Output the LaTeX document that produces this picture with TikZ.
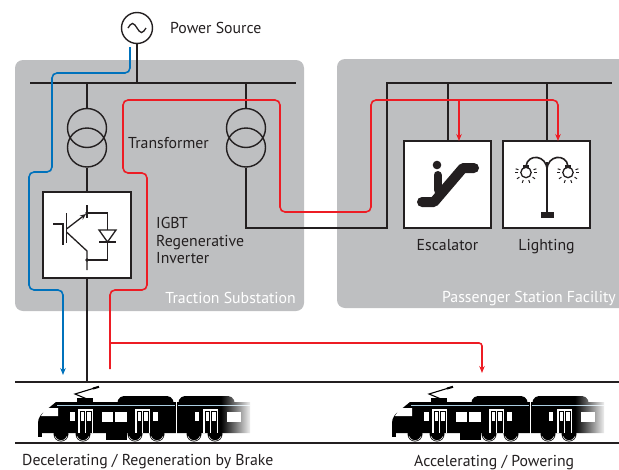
\documentclass[tikz,border=0pt]{standalone}
\usepackage{fontspec}
\setmainfont{PT Sans}
\usetikzlibrary{arrows.meta,calc,fadings}

\definecolor{panel}{RGB}{190,191,193}
\definecolor{flowred}{RGB}{237,28,36}
\definecolor{flowblue}{RGB}{0,114,188}
\definecolor{stripe}{RGB}{170,205,225}
\definecolor{ink}{RGB}{35,31,32}

\tikzfading[name=trainfade, left color=transparent!100, right color=transparent!0]

\tikzset{
  wire/.style={draw=ink, line width=1.4pt},
  bus/.style={draw=ink, line width=2pt},
  redflow/.style={draw=flowred, line width=1.6pt, rounded corners=5pt},
  blueflow/.style={draw=flowblue, line width=1.6pt, rounded corners=5pt},
  tip/.style={-{Stealth[length=7pt,width=5.5pt]}},
  panelbox/.style={fill=panel, rounded corners=8pt, inner sep=0pt},
  whitebox/.style={draw=ink, fill=white, line width=1.4pt, inner sep=0pt},
  coil/.style={circle, draw=ink, line width=1.4pt, minimum size=39pt, inner sep=0pt},
  lbl/.style={font=\fontsize{15.8}{17.5}\selectfont, text=ink, inner sep=0pt},
  panellbl/.style={font=\fontsize{15.8}{17.5}\selectfont, text=white, inner sep=0pt},
  sym/.style={draw=ink, line width=1.3pt},
  train/.pic={
    % car bodies
    \fill[black] (38,433) -- (38,423) .. controls (38,418) and (41,414) .. (45,411)
      -- (56,402) -- (250,402) -- (250,433) -- cycle;
    \fill[black, rounded corners=4pt] (116,404) -- (120,396) -- (171,396) -- (175,404) -- cycle;
    \fill[black, rounded corners=4pt] (177,404) -- (181,396) -- (232,396) -- (236,404) -- cycle;
    % skirts
    \fill[black] (38,430) rectangle (42,437);
    \fill[black] (106,430) rectangle (127,440);
    % wheels
    \foreach \wx in {61,83,135,157,194,215}{
      \fill[black] (\wx,434) circle (7.5);
      \draw[white, line width=0.5pt] (\wx,434) ++(20:6.5) arc[start angle=20, end angle=160, radius=6.5];
    }
    % pantograph
    \fill[black] (77,398) rectangle (93,402.5);
    \draw[black, line width=1.1pt] (98,387) -- (75,394) -- (87,399);
    \draw[black, line width=2pt] (93,388.5) -- (99,386.8);
    % stripe and car gap
    \draw[stripe, line width=1pt] (57,405.5) -- (174.5,405.5);
    \draw[stripe, line width=1pt] (177.5,405.5) -- (250,405.5);
    \draw[white, line width=0.9pt] (176,396) -- (176,434);
    % windows
    \fill[white] (46,408) -- (58,408) -- (58,416) -- (41,416) -- cycle;
    \fill[white] (70,412) rectangle (75,421);
    \fill[white] (102,412) rectangle (113,422);
    \fill[white] (115,412) rectangle (127,422);
    \fill[white] (153,412) rectangle (158,421);
    \fill[white] (195,412) rectangle (199,421);
    \fill[white] (227,412) rectangle (241,422);
    % doors
    \foreach \dx in {78,135,203}{
      \fill[white] (\dx,409) rectangle ++(15,24);
      \fill[black] (\dx+1.5,410.5) rectangle ++(5.5,22.5);
      \fill[black] (\dx+8,410.5) rectangle ++(5.5,22.5);
      \fill[white] (\dx+2.5,412) rectangle ++(3.5,9);
      \fill[white] (\dx+9,412) rectangle ++(3.5,9);
    }
    % tail fading out
    \fill[white, path fading=trainfade] (221,393) rectangle (252,442);
  }
}

\begin{document}
\begin{tikzpicture}[x=1pt, y=-1pt]
\useasboundingbox (0,0) rectangle (619,469);
\clip (0,0) rectangle (619,469);

% ---- panels
\node[panelbox, minimum width=289pt, minimum height=251pt] (sub) at (159.5,185.5) {};
\node[panelbox, minimum width=303pt, minimum height=249pt] (fac) at (488.5,183.5) {};
\node[panellbl, anchor=base east] (sublbl) at (296,303) {Traction Substation};
\node[panellbl, anchor=base east] (faclbl) at (616,302.5) {Passenger Station Facility};

% ---- power source
\node[circle, draw=ink, line width=1.4pt, minimum size=31pt, inner sep=0pt] (src) at (137,28) {};
\draw[ink, line width=1.3pt] ($(src)+(-9,0)$) sin ($(src)+(-4.5,-4.5)$) cos (src)
  sin ($(src)+(4.5,4.5)$) cos ($(src)+(9,0)$);
\node[lbl, anchor=base west] (srclbl) at (170,33.5) {Power Source};

% ---- bus bars
\coordinate (busL) at (30,83);
\coordinate (busR) at (296,83);
\draw[bus] (busL) -- (busR);
\draw[wire] (src.south) -- (src.south |- busL);

% ---- transformers
\node[coil] (t1a) at (87,128) {};
\node[coil] (t1b) at (87,147.5) {};
\node[coil] (t2a) at (246,128) {};
\node[coil] (t2b) at (246,147.5) {};
\node[lbl, anchor=base west] (tlbl) at (128,148) {Transformer};

% ---- inverter
\node[whitebox, minimum width=88pt, minimum height=86pt] (inv) at (87,235) {};
\node[lbl, anchor=west, align=left] (invlbl) at (156,240.5) {IGBT\\Regenerative\\Inverter};

% ---- loads
\node[whitebox, minimum width=87pt, minimum height=87pt] (esc) at (447.5,184.5) {};
\node[whitebox, minimum width=87pt, minimum height=87pt] (lit) at (546.5,184.5) {};
\node[lbl, anchor=base] (esclbl) at (447.5,250) {Escalator};
\node[lbl, anchor=base] (litlbl) at (546.5,250) {Lighting};

% ---- rails
\coordinate (railL) at (15,382);
\coordinate (railR) at (619,382);
\draw[wire] (railL) -- (railR);
\draw[wire] (15,443) -- (619,443);

% ---- black wiring
\draw[wire] (t1a.north |- busL) -- (t1a.north);
\draw[wire] (t1b.south) -- (inv.north);
\draw[wire] (inv.south) -- (inv.south |- railL);
\draw[wire] (t2a.north |- busL) -- (t2a.north);
\coordinate (fbend) at (387,228);
\coordinate (fbus) at (387,83);
\coordinate (fbusR) at (612,83);
\coordinate (escdrop) at (448,141);
\coordinate (litdrop) at (547,141);
\draw[wire] (t2b.south) -- (t2b.south |- fbend) -- (fbend) -- (fbus) -- (fbusR);
\draw[wire] (escdrop |- fbus) -- (escdrop);
\draw[wire] (litdrop |- fbus) -- (litdrop);

% ---- IGBT symbol
\draw[sym] (53,224) -- (63,224) -- (63,245);
\draw[sym] (66.5,213) -- (66.5,243);
\draw[sym, -{Stealth[length=6pt,width=5pt]}] (66.5,229) -- (86,214);
\draw[sym] (87,205) -- (87,218);
\draw[sym] (66.5,232) -- (87,251) -- (87,270);
\draw[sym] (87,213) -- (107.5,213) -- (107.5,260) -- (87,260);
\draw[sym, fill=white] (99,230) -- (116,230) -- (107.5,242) -- cycle;
\draw[sym] (99,242) -- (116,242);
\fill[ink] (87,213) circle (1.8) (87,260) circle (1.8);

% ---- escalator icon
\fill[ink] (437,165) circle (4.3);
\draw[ink, line width=8pt, line cap=round] (437.5,175) -- (437.5,190);
\draw[ink, line width=10pt, line cap=round, line join=round] (422,202) -- (434,202) -- (463,168) -- (474,168);

% ---- street lamp icon
\draw[ink, line width=1.8pt] (547,162) -- (547,213);
\fill[ink] (540.5,212) rectangle (554,218);
\draw[ink, line width=1.6pt] (547,170) .. controls (547,155) and (528,153) .. (526,166);
\draw[ink, line width=1.6pt] (547,170) .. controls (547,155) and (566,153) .. (568,166);
\foreach \lx in {526,568}{
  \draw[ink, line width=1.3pt, fill=white] (\lx,172.5) circle (5.2);
  \fill[ink] (\lx-3,165) rectangle (\lx+3,168);
  \foreach \a in {-20,0,35,70,110,145,180,200}{
    \draw[ink, line width=1pt] (\lx,172.5) ++(\a:8) -- ++(\a:3);
  }
}

% ---- power flows
\coordinate (bluestart) at (130,47);
\draw[blueflow, tip] (bluestart) -- (130,73) -- (52,73) -- (52,172) -- (29,172)
  -- (29,290) -- (63,290) -- (63,375);
\coordinate (redstub) at (110,369);
\coordinate (redjoin) at (110,343);
\coordinate (redtop) at (371,100);
\coordinate (escin) at (459,141);
\coordinate (litin) at (558,141);
\draw[redflow, tip] (redstub) -- (110,290) -- (147,290) -- (147,173) -- (123,173) -- (123,100)
  -- (280,100) -- (280,212) -- (371,212) -- (redtop) -- (litin |- redtop) -- (litin);
\draw[redflow, tip] (escin |- redtop) -- (escin);
\draw[redflow, tip, rounded corners=3pt] (redjoin) -- (482,343) -- (482,373);

% ---- trains
\pic at (0,0) {train};
\pic at (354,0) {train};
\node[lbl, anchor=base west] (declbl) at (22,465) {Decelerating / Regeneration by Brake};
\node[lbl, anchor=base west] (acclbl) at (414,466) {Accelerating / Powering};
\end{tikzpicture}
\end{document}
